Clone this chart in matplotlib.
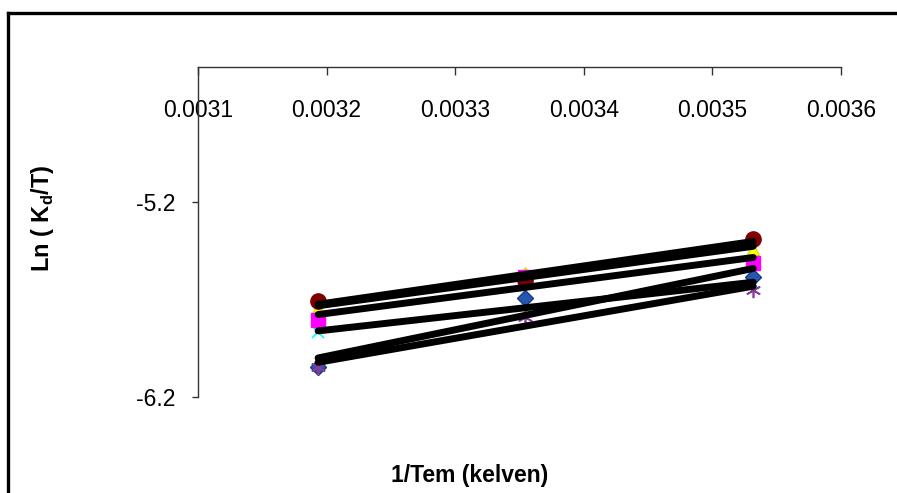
import matplotlib.pyplot as plt
from matplotlib.lines import Line2D
import numpy as np

plt.rcParams['font.family'] = ['Liberation Sans', 'DejaVu Sans']

# 1/T for 40, 25 and 10 degC
inv_temp = [0.0031934, 0.0033540, 0.0035317]

# Ln(Kd/T) for each series
series_diamond = [-6.046, -5.695, -5.583]
series_square = [-5.807, -5.583, -5.512]
series_triangle = [-5.746, -5.563, -5.440]
series_cross = [-5.868, -5.731, -5.618]
series_star = [-6.046, -5.792, -5.654]
series_circle = [-5.709, -5.603, -5.389]

x_ticks = [0.0031, 0.0032, 0.0033, 0.0034, 0.0035, 0.0036]
y_ticks = [-6.2, -5.2]

fig = plt.figure(figsize=(8.97, 4.93), dpi=100)
ax = fig.add_axes([0.2207, 0.1947, 0.9376 - 0.2207, 0.8641 - 0.1947])

styles = [
    (series_triangle, dict(marker='^', color='#ffff00', ms=9, mec='#e0e000')),
    (series_cross, dict(marker='x', color='#00ffff', ms=9, mew=1.2)),
    (series_diamond, dict(marker='D', color='#2458b0', ms=8, mec='#1a3d80')),
    (series_star, dict(marker=(6, 2, 0), color='#8b3a9a', ms=11, mew=1.2)),
    (series_square, dict(marker='s', color='#ff00ff', ms=10, mec='#ff00ff')),
    (series_circle, dict(marker='o', color='#800000', ms=11, mec='#800000')),
]

x = np.array(inv_temp)
for ys, st in styles:
    ax.plot(x, ys, linestyle='none', **st)

# linear trendlines, one per series
for ys, st in styles:
    k, b = np.polyfit(x, ys, 1)
    ax.plot(x[[0, -1]], k * x[[0, -1]] + b, color='black', lw=5,
            solid_capstyle='round', zorder=5)

ax.set_xlim(0.0031, 0.0036)
ax.set_ylim(-6.2, -4.51)
ax.set_xticks(x_ticks)
ax.set_xticklabels(['%.4f' % v for v in x_ticks])
ax.set_yticks(y_ticks)
ax.set_yticklabels(['%.1f' % v for v in y_ticks])

# the x axis sits on top, ticks and labels hang below it
ax.spines['bottom'].set_position(('axes', 1.0))
ax.spines['top'].set_visible(False)
ax.spines['right'].set_visible(False)
for s in ['bottom', 'left']:
    ax.spines[s].set_color('#333333')
    ax.spines[s].set_linewidth(1.0)
ax.tick_params(axis='x', direction='out', length=6, width=1, pad=17,
               labelsize=16.5, color='#333333')
ax.tick_params(axis='y', direction='out', length=4.5, width=1, pad=12,
               labelsize=16.5, color='#333333')

fig.text(0.047, 0.558, r'Ln ( K$_\mathregular{d}$/T)', rotation=90, ha='center',
         va='center', fontsize=17, fontweight='bold')
fig.text(0.524, 0.0365, '1/Tem (kelven)', ha='center', va='center',
         fontsize=16.5, fontweight='bold')

# outer frame
fig.add_artist(Line2D([8 / 897, 8 / 897], [0, 1 - 13 / 493], color='black', lw=2.4,
                      transform=fig.transFigure))
fig.add_artist(Line2D([8 / 897, 1], [1 - 13 / 493, 1 - 13 / 493], color='black', lw=2.4,
                      transform=fig.transFigure))

fig.savefig('out.png', dpi=100)
